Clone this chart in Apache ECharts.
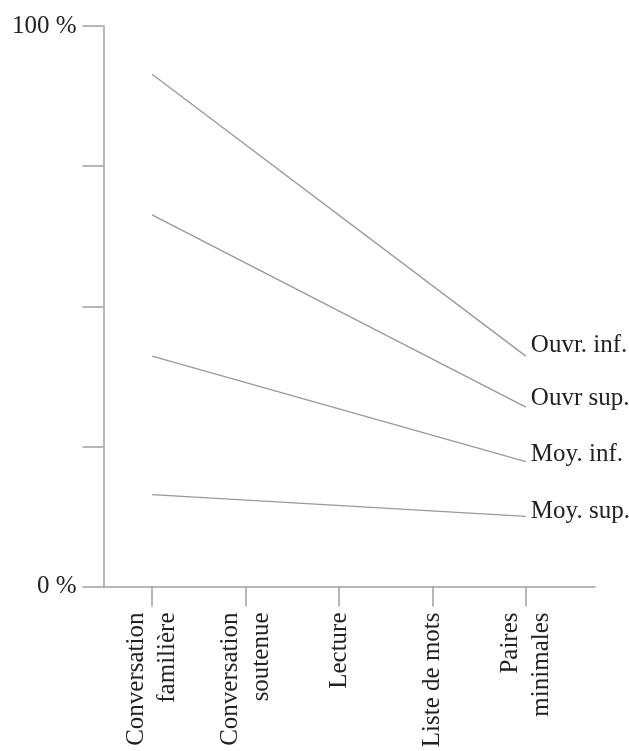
<!DOCTYPE html>
<html>
<head>
<meta charset="utf-8">
<script src="https://cdn.jsdelivr.net/npm/echarts@6/dist/echarts.min.js"></script>
<style>
html,body{margin:0;padding:0;background:#fff;}
#chart{width:629px;height:751px;}
</style>
</head>
<body>
<div id="chart"></div>
<script>
// Categories (x axis)
var categories = ['Conversation\nfamilière', 'Conversation\nsoutenue', 'Lecture', 'Liste de mots', 'Paires\nminimales'];
// Y tick labels
var yTickLabels = {0: '0 %', 100: '100 %'};
// Series: values at first category (Conversation familière) and last (Paires minimales)
var ouvrInf = [91.4, 41.1];
var ouvrSup = [66.3, 32.0];
var moyInf = [41.1, 22.3];
var moySup = [16.4, 12.5];
var seriesNames = ['Ouvr. inf.', 'Ouvr sup.', 'Moy. inf.', 'Moy. sup.'];
var seriesValues = [ouvrInf, ouvrSup, moyInf, moySup];

var FONT = '"Liberation Serif", "DejaVu Serif", serif';
var labelOffsets = [[-3, -11], [-3, -9], [-3, -7], [-3, -5]];
var lastIdx = categories.length - 1;

var chart = echarts.init(document.getElementById('chart'), null, {renderer: 'canvas'});
var option = {
  animation: false,
  backgroundColor: '#fff',
  grid: {left: 103.5, right: 34, top: 26, bottom: 164.5, containLabel: false},
  xAxis: {
    type: 'value',
    min: -0.52,
    max: 4.74,
    splitLine: {show: false},
    axisLine: {show: true, onZero: false, lineStyle: {color: '#a0a0a0', width: 1.5}},
    axisTick: {show: true, length: 20, customValues: categories.map(function (c, i) { return i; }),
      lineStyle: {color: '#a0a0a0', width: 1.5}},
    axisLabel: {
      show: true,
      customValues: categories.map(function (c, i) { return i; }),
      formatter: function (v) { return categories[Math.round(v)] || ''; },
      rotate: 90,
      margin: 26,
      padding: [0, 0, 8, 0],
      fontFamily: FONT,
      fontSize: 25,
      lineHeight: 31,
      color: '#222'
    }
  },
  yAxis: {
    type: 'value',
    min: 0,
    max: 100,
    interval: 25,
    splitLine: {show: false},
    axisLine: {show: true, onZero: false, lineStyle: {color: '#a0a0a0', width: 1.5}},
    axisTick: {show: true, length: 21, lineStyle: {color: '#a0a0a0', width: 1.5}},
    axisLabel: {
      show: true,
      margin: 27,
      formatter: function (v) { return yTickLabels[v] || ''; },
      fontFamily: FONT,
      fontSize: 25,
      color: '#222'
    }
  },
  series: seriesNames.map(function (name, i) {
    var vals = seriesValues[i];
    return {
      name: name,
      type: 'line',
      symbol: 'none',
      data: [[0, vals[0]], [lastIdx, vals[1]]],
      lineStyle: {color: '#999', width: 1.3},
      endLabel: {
        show: true,
        formatter: '{a}',
        offset: labelOffsets[i],
        fontFamily: FONT,
        fontSize: 25,
        color: '#222'
      }
    };
  })
};
chart.setOption(option);
</script>
</body>
</html>
